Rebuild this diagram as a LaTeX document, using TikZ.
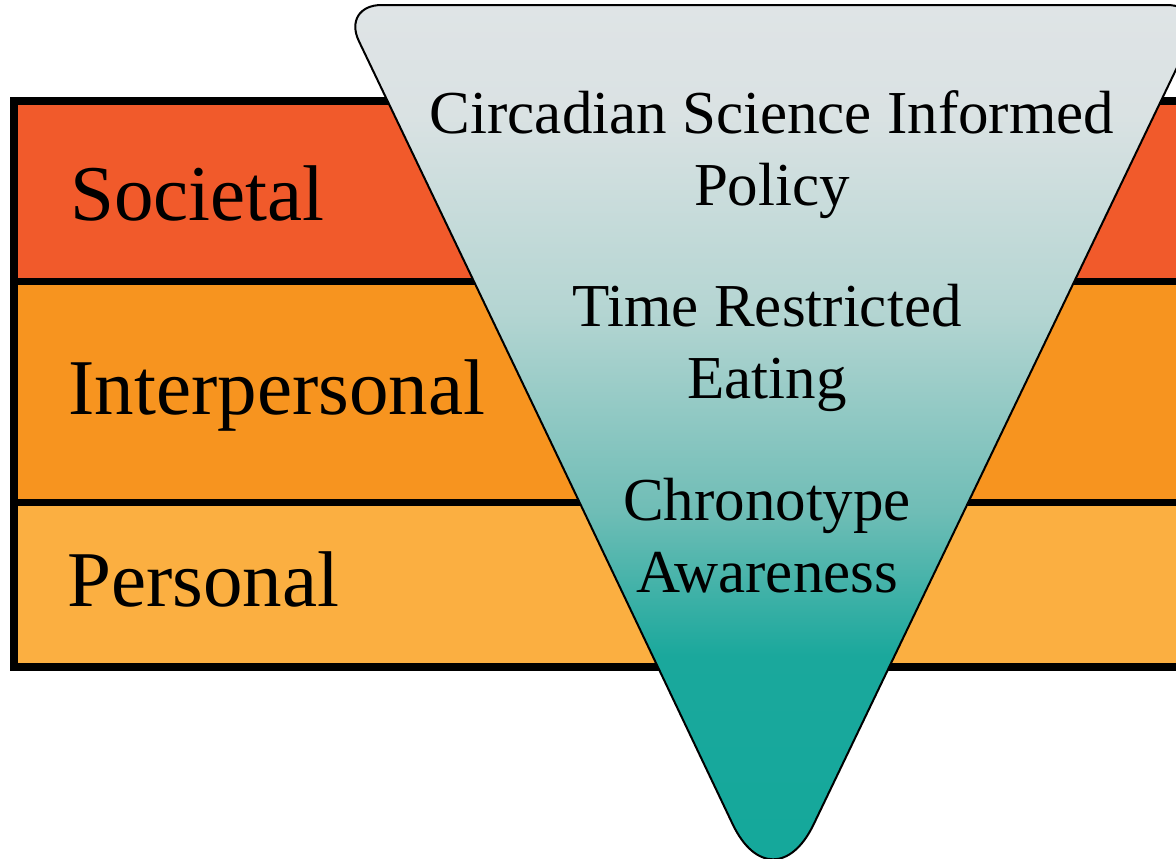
\documentclass[tikz,border=0pt]{standalone}
\usepackage{fontspec}
\setmainfont{Liberation Serif}
\usepackage{xcolor}
\usepackage{tikz}
\usetikzlibrary{positioning}

\definecolor{societalfill}{HTML}{F15A2B}
\definecolor{interfill}{HTML}{F7941F}
\definecolor{personalfill}{HTML}{FBAF41}
\definecolor{tealdark}{HTML}{13A89B}
\definecolor{tealdeep}{HTML}{1AA89C}
\definecolor{tealmid}{HTML}{6FBDB6}
\definecolor{teallight}{HTML}{B4D5D2}
\definecolor{greylight}{HTML}{DAE2E3}
\definecolor{greytop}{HTML}{DFE4E6}

\pgfdeclareverticalshading{tealfade}{100bp}{color(0bp)=(tealdark); color(25bp)=(tealdark); color(39bp)=(tealdeep); color(47bp)=(tealmid); color(58bp)=(teallight); color(69bp)=(greylight); color(75bp)=(greytop); color(100bp)=(greytop)}

\begin{document}
\begin{tikzpicture}[
    x=0.5pt, y=-0.5pt,
    bandlabel/.style={anchor=base west, inner sep=0pt, font=\fontsize{39.5}{47}\selectfont},
    tritext/.style={anchor=base, inner sep=0pt, align=center, font=\fontsize{30.5}{36}\selectfont},
    bandline/.style={line width=3.5pt},
]
\useasboundingbox (0,0) rectangle (1176,858);
\clip (0,0) rectangle (1176,858);
\fill[societalfill] (14,101) rectangle (1200,281.5);
\fill[interfill] (14,281.5) rectangle (1200,502);
\fill[personalfill] (14,502) rectangle (1200,667);
\draw[bandline] (14,281.5) -- (1200,281.5);
\draw[bandline] (14,502) -- (1200,502);
\draw[line width=4pt] (1200,101) -- (14,101) -- (14,667) -- (1200,667);
\node[bandlabel] (societal) at (70,220) {Societal};
\node[bandlabel] (interpersonal) at (68,414) {Interpersonal};
\node[bandlabel] (personal) at (67,606) {Personal};
\shade[shading=tealfade, draw=black, line width=1pt]
    (557,455) [rounded corners=47pt] -- (773,909) [rounded corners=20pt] -- (1207,5) -- (341.6,5) -- cycle;
\node[tritext] (policy) at (772,205) {Circadian Science Informed\\Policy};
\node[tritext] (eating) at (767,398) {Time Restricted\\Eating};
\node[tritext] (chrono) at (767,592) {Chronotype\\Awareness};
\end{tikzpicture}
\end{document}
